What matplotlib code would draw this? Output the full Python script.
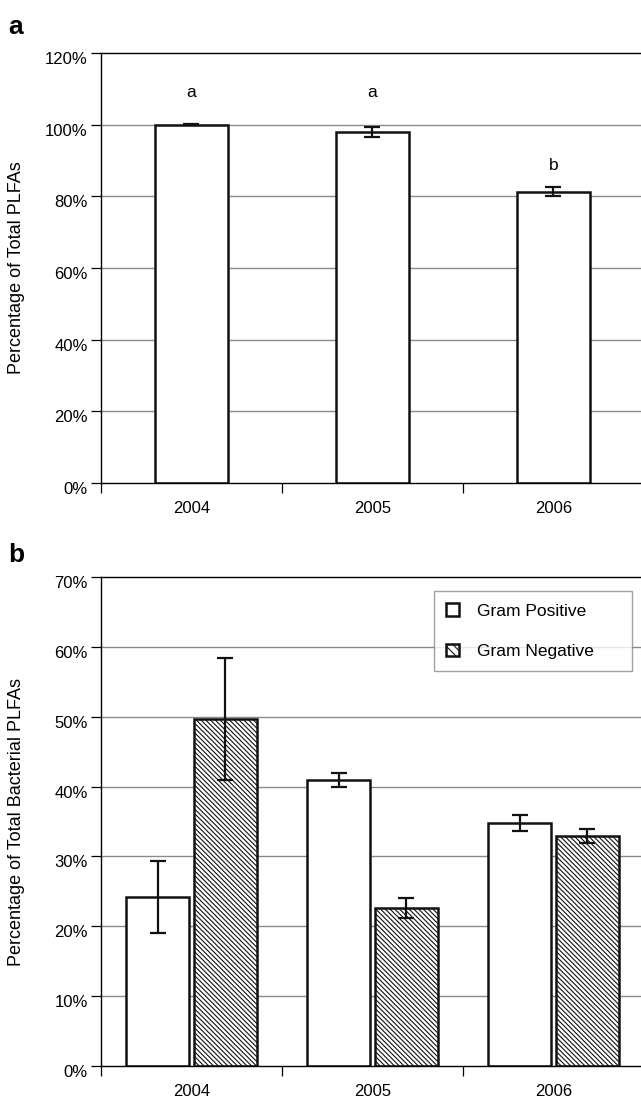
import matplotlib
matplotlib.use("Agg")
import matplotlib.pyplot as plt
import matplotlib.transforms as mtransforms
import numpy as np
from matplotlib.patches import Patch
from matplotlib.ticker import FixedLocator, PercentFormatter

plt.rcParams['font.family'] = ['Liberation Sans', 'DejaVu Sans']
plt.rcParams['hatch.linewidth'] = 0.8

years = ["2004", "2005", "2006"]

# Panel a: total bacterial PLFAs as % of total PLFAs
total_mean = [100.0, 98.0, 81.3]
total_err = [0.15, 1.4, 1.2]
sig_letters = ["a", "a", "b"]
sig_letter_y = [109.0, 109.0, 88.5]

# Panel b: gram positive / gram negative as % of total bacterial PLFAs
gram_pos_mean = [24.2, 40.9, 34.8]
gram_pos_err = [5.1, 1.0, 1.1]
gram_neg_mean = [49.7, 22.6, 32.9]
gram_neg_err = [8.7, 1.4, 1.0]

W, H = 641, 1098
fig = plt.figure(figsize=(W / 100, H / 100), dpi=100)

left = 101 / W
right_edge = 644 / W
axw = right_edge - left

ax1 = fig.add_axes([left, 1 - 483 / H, axw, (483 - 53) / H])
ax2 = fig.add_axes([left, 1 - 1066 / H, axw, (1066 - 577) / H])

x = np.arange(len(years))
grid_color = "#8a8a8a"
tick_fs = 12
HATCH = "\\" * 7

def style_axes(ax, ymax, ystep):
    ax.set_xlim(-0.5, len(years) - 0.5)
    ax.set_ylim(0, ymax)
    ax.yaxis.set_major_locator(FixedLocator(np.arange(0, ymax + 0.1, ystep)))
    ax.yaxis.set_major_formatter(PercentFormatter(decimals=0))
    ax.xaxis.set_major_locator(FixedLocator(np.arange(len(years) + 1) - 0.5))
    ax.xaxis.set_major_formatter(plt.NullFormatter())
    ax.xaxis.set_minor_locator(FixedLocator(x))
    ax.set_xticklabels(years, minor=True)
    ax.tick_params(axis="x", which="major", length=7, width=0.9, direction="out", color="black")
    ax.tick_params(axis="x", which="minor", length=0, pad=13, labelsize=tick_fs)
    ax.tick_params(axis="y", which="major", length=7, width=0.9, direction="out", pad=2.5, labelsize=tick_fs)
    for side in ["left", "bottom", "top"]:
        ax.spines[side].set_linewidth(1.0)
        ax.spines[side].set_color("black")
    ax.spines["right"].set_visible(False)
    for yv in np.arange(ystep, ymax, ystep):
        ax.axhline(yv, color=grid_color, lw=1.0, zorder=0)
    shift = mtransforms.ScaledTranslation(0, -5 / 100, fig.dpi_scale_trans)
    for lab in ax.get_yticklabels():
        lab.set_transform(lab.get_transform() + shift)

style_axes(ax1, 120, 20)
style_axes(ax2, 70, 10)

# Panel a bars
bw1 = 0.40
ax1.bar(x, total_mean, width=bw1, color="white", edgecolor="#111111", linewidth=1.8, zorder=2)
ax1.errorbar(x, total_mean, yerr=total_err, fmt="none", ecolor="#111111",
             elinewidth=1.6, capsize=6, capthick=1.6, zorder=3)
for xi, lab, ly in zip(x, sig_letters, sig_letter_y):
    ax1.text(xi, ly, lab, ha="center", va="center", fontsize=12.5)

# Panel b bars
bw2 = 0.35
off = 0.187
ax2.bar(x - off, gram_pos_mean, width=bw2, color="white", edgecolor="#111111",
        linewidth=1.8, zorder=2, label="Gram Positive")
ax2.bar(x + off, gram_neg_mean, width=bw2, color="white", edgecolor="#111111",
        linewidth=1.8, hatch=HATCH, zorder=2, label="Gram Negative")
ax2.errorbar(x - off, gram_pos_mean, yerr=gram_pos_err, fmt="none", ecolor="#111111",
             elinewidth=1.6, capsize=6, capthick=1.6, zorder=3)
ax2.errorbar(x + off, gram_neg_mean, yerr=gram_neg_err, fmt="none", ecolor="#111111",
             elinewidth=1.6, capsize=6, capthick=1.6, zorder=3)

handles = [Patch(facecolor="white", edgecolor="#111111", linewidth=1.8, label="Gram Positive"),
           Patch(facecolor="white", edgecolor="#111111", linewidth=1.8, hatch="\\" * 4, label="Gram Negative")]
leg = ax2.legend(handles=handles, loc="upper left",
                 bbox_to_anchor=((434 - 101) / 543, (1066 - 591) / 489, 198 / 543, 0.0),
                 mode="expand",
                 frameon=True, fancybox=False, fontsize=12.5,
                 handlelength=0.75, handleheight=0.75, handletextpad=1.0,
                 labelspacing=1.45, borderpad=0.7, borderaxespad=0)
leg.get_frame().set_edgecolor("#8a8a8a")
leg.get_frame().set_linewidth(1.0)

# y labels and panel letters
fig.text(17 / W, 1 - 268 / H, "Percentage of Total PLFAs", rotation=90,
         ha="center", va="center", fontsize=13)
fig.text(17 / W, 1 - 822 / H, "Percentage of Total Bacterial PLFAs", rotation=90,
         ha="center", va="center", fontsize=13)
fig.text(8 / W, 1 - 34 / H, "a", fontsize=19, fontweight="bold", ha="left", va="baseline")
fig.text(8 / W, 1 - 562 / H, "b", fontsize=19, fontweight="bold", ha="left", va="baseline")

fig.savefig("out.png", dpi=100, facecolor="white")
